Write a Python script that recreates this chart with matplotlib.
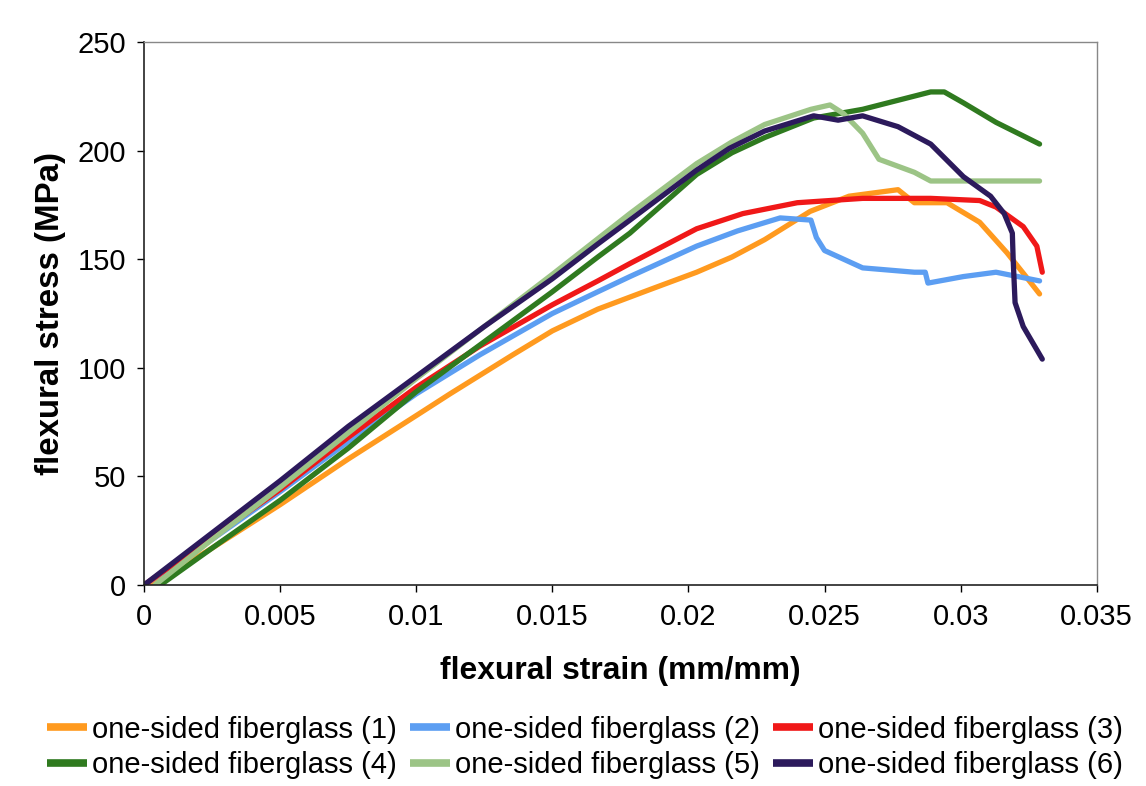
import matplotlib
matplotlib.use("Agg")
import matplotlib.pyplot as plt

plt.rcParams['font.family'] = ['Liberation Sans', 'DejaVu Sans']

labels = ["one-sided fiberglass (1)", "one-sided fiberglass (2)", "one-sided fiberglass (3)",
          "one-sided fiberglass (4)", "one-sided fiberglass (5)", "one-sided fiberglass (6)"]
colors = ["#FF9A1F", "#5C9EF2", "#F01818", "#2F7A1F", "#9CC486", "#2C1A5C"]

# series 1 (orange)
s1_x = [0.0003, 0.0025, 0.005, 0.0075, 0.01, 0.01124, 0.01355, 0.015, 0.01667, 0.01858, 0.0203,
        0.0216, 0.0228, 0.02447, 0.0259, 0.0277, 0.0283, 0.0295, 0.0307, 0.0317, 0.0324, 0.0329]
s1_y = [0, 17, 37, 58, 78, 88, 106, 117, 127, 136, 144,
        151, 159, 172, 179, 182, 176, 176, 167, 153, 142, 134]
# series 2 (blue)
s2_x = [0.0, 0.0025, 0.005, 0.0075, 0.01, 0.01234, 0.015, 0.01667, 0.01785, 0.0203, 0.0218,
        0.02337, 0.0245, 0.0247, 0.025, 0.0264, 0.0283, 0.0287, 0.0288, 0.0301, 0.0313, 0.0329]
s2_y = [0, 21, 43, 66, 88, 106, 125, 135, 142, 156, 163,
        169, 168, 160, 154, 146, 144, 144, 139, 142, 144, 140]
# series 3 (red)
s3_x = [0.0, 0.0025, 0.005, 0.0075, 0.01, 0.01234, 0.015, 0.01667, 0.01785, 0.0203, 0.022,
        0.024, 0.0264, 0.0289, 0.0307, 0.0313, 0.0323, 0.0328, 0.033]
s3_y = [0, 22, 44, 68, 91, 110, 129, 140, 148, 164, 171,
        176, 178, 178, 177, 174, 165, 156, 144]
# series 4 (dark green)
s4_x = [0.0006, 0.0025, 0.005, 0.0075, 0.01, 0.0125, 0.015, 0.01667, 0.01785, 0.0203, 0.0216,
        0.0228, 0.0246, 0.0264, 0.0289, 0.0294, 0.0301, 0.0313, 0.0329]
s4_y = [0, 17, 39, 63, 89, 112, 135, 151, 162, 189, 199,
        206, 215, 219, 227, 227, 222, 213, 203]
# series 5 (light green)
s5_x = [0.0004, 0.0025, 0.005, 0.0075, 0.01, 0.0125, 0.015, 0.01785, 0.0203, 0.0216, 0.0228,
        0.0245, 0.0252, 0.0257, 0.0264, 0.027, 0.0283, 0.0289, 0.031, 0.0329]
s5_y = [0, 21, 45, 70, 95, 119, 143, 171, 194, 204, 212,
        219, 221, 217, 208, 196, 190, 186, 186, 186]
# series 6 (dark purple)
s6_x = [0.0, 0.0025, 0.005, 0.0075, 0.01, 0.0125, 0.015, 0.01667, 0.01785, 0.0203, 0.0215,
        0.0228, 0.0246, 0.0255, 0.0264, 0.0277, 0.0289, 0.0301, 0.0311, 0.0316, 0.0319,
        0.03193, 0.032, 0.0323, 0.033]
s6_y = [0, 24, 48, 73, 96, 119, 141, 157, 168, 191, 201,
        209, 216, 214, 216, 211, 203, 188, 179, 171, 162,
        150, 130, 119, 104]

series = [(s1_x, s1_y), (s2_x, s2_y), (s3_x, s3_y), (s4_x, s4_y), (s5_x, s5_y), (s6_x, s6_y)]

x_ticks = [0, 0.005, 0.01, 0.015, 0.02, 0.025, 0.03, 0.035]
x_tick_labels = ["0", "0.005", "0.01", "0.015", "0.02", "0.025", "0.03", "0.035"]
y_ticks = [0, 50, 100, 150, 200, 250]

fig = plt.figure(figsize=(11.46, 7.86), dpi=100)
ax = fig.add_axes([0.1257, 0.2557, 0.8313, 0.6909])

handles = []
for (xs, ys), c, lab in zip(series, colors, labels):
    h, = ax.plot(xs, ys, color=c, lw=3.8, label=lab, solid_joinstyle='round',
                 solid_capstyle='round')
    handles.append(h)

ax.set_xlim(0, 0.035)
ax.set_ylim(0, 250)
ax.set_xticks(x_ticks)
ax.set_xticklabels(x_tick_labels)
ax.set_yticks(y_ticks)
ax.tick_params(labelsize=21, length=5, width=1, direction='out', pad=8)
for s in ['left', 'bottom']:
    ax.spines[s].set_color('#222222')
    ax.spines[s].set_linewidth(1.2)
for s in ['top', 'right']:
    ax.spines[s].set_color('#888888')
    ax.spines[s].set_linewidth(1.0)

ax.set_xlabel("flexural strain (mm/mm)", fontsize=22.9, fontweight='bold', labelpad=18)
ax.set_ylabel("flexural stress (MPa)", fontsize=23.8, fontweight='bold', labelpad=8)

order = [0, 3, 1, 4, 2, 5]
leg = fig.legend([handles[i] for i in order], [labels[i] for i in order],
                 loc='center', bbox_to_anchor=(0.5105, 0.049), ncol=3, frameon=False,
                 fontsize=21, handlelength=1.37, handletextpad=0.17, columnspacing=0.45,
                 labelspacing=0.27, borderpad=0.2)
for h in leg.get_lines():
    h.set_linewidth(5.5)
    h.set_solid_capstyle('butt')

fig.savefig("out.png", dpi=100, facecolor='white')
